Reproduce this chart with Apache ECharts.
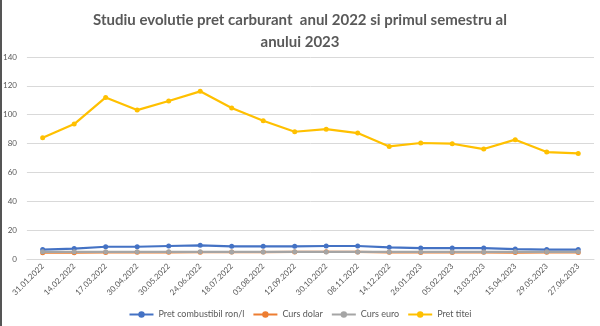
<!DOCTYPE html>
<html><head><meta charset="utf-8">
<script src="https://cdn.jsdelivr.net/npm/echarts@6/dist/echarts.min.js"></script>
<style>html,body{margin:0;padding:0;background:#fff}#c{width:600px;height:326px}</style>
</head><body><div id="c"></div>
<script>
const categories = ["31.01.2022","14.02.2022","17.03.2022","30.04.2022","30.05.2022","24.06.2022","18.07.2022","03.08.2022","12.09.2022","30.10.2022","08.11.2022","14.12.2022","26.01.2023","05.02.2023","13.03.2023","15.04.2023","29.05.2023","27.06.2023"];
const pretCombustibil = [6.5,7.2,8.5,8.5,9.0,9.5,8.8,8.8,8.8,9.0,9.0,8.1,7.6,7.6,7.6,6.9,6.5,6.5];
const cursDolar = [4.36,4.36,4.5,4.68,4.62,4.7,4.85,4.8,4.93,5.0,4.9,4.65,4.55,4.55,4.65,4.45,4.6,4.55];
const cursEuro = [4.94,4.95,4.95,4.94,4.94,4.94,4.93,4.9,4.94,4.92,4.89,4.91,4.92,4.9,4.92,4.94,4.96,4.96];
const pretTitei = [84,93.5,112,103.2,109.5,116.2,104.6,95.8,88.2,90,87.3,78,80.4,79.9,76.2,82.7,74.1,73.2];
const seriesNames = ["Pret combustibil ron/l","Curs dolar","Curs euro","Pret titei"];
const colors = ["#4472C4","#ED7D31","#A5A5A5","#FFC000"];
const chart = echarts.init(document.getElementById('c'));
const dataSets = [pretCombustibil, cursDolar, cursEuro, pretTitei];
chart.setOption({
  animation:false,
  color: colors,
  title:{
    text:"Studiu evolutie pret carburant  anul 2022 si primul semestru al\nanului 2023",
    left:'center', top:4,
    textStyle:{fontFamily:'Lato', fontWeight:'bold', fontSize:15, color:'#595959', lineHeight:22}
  },
  grid:{left:21, right:6, top:57, bottom:67},
  legend:{
    top:305, left:'center', itemWidth:24, itemHeight:8, itemGap:8,
    textStyle:{fontFamily:'Lato', fontSize:9, color:'#595959'},
    data: seriesNames
  },
  xAxis:{
    type:'category', data:categories, boundaryGap:true,
    axisLine:{lineStyle:{color:'#d9d9d9'}}, axisTick:{show:false},
    axisLabel:{rotate:45, fontSize:8, color:'#595959', fontFamily:'Lato', margin:6, interval:0}
  },
  yAxis:{
    type:'value', min:0, max:140, interval:20,
    axisLine:{show:false}, axisTick:{show:false},
    splitLine:{lineStyle:{color:'#d9d9d9'}},
    axisLabel:{fontSize:8, color:'#595959', fontFamily:'Lato', margin:10}
  },
  series: seriesNames.map((n,i)=>({
    name:n, type:'line', data:dataSets[i], symbol:'circle', symbolSize:5,
    lineStyle:{width:2.2}, itemStyle:{color:colors[i]}
  })),
  graphic:[{type:'rect', shape:{x:0,y:0,width:2,height:326}, style:{fill:'#555'}}]
});
</script></body></html>
